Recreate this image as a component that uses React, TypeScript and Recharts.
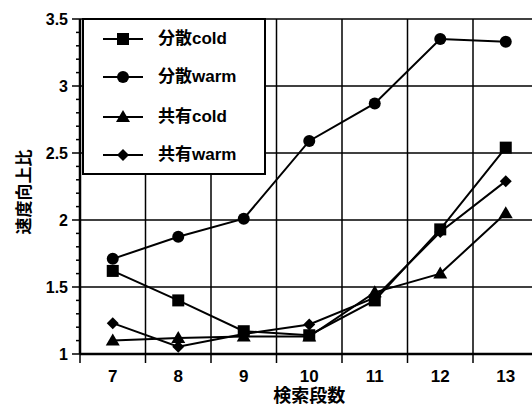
import React from 'react';
import { LineChart, Line, XAxis, YAxis, ReferenceLine } from 'recharts';

const categories = [7, 8, 9, 10, 11, 12, 13];
const bunsanCold = [1.62, 1.4, 1.17, 1.14, 1.4, 1.93, 2.54];
const bunsanWarm = [1.71, 1.875, 2.01, 2.59, 2.87, 3.35, 3.33];
const kyouyuCold = [1.1, 1.12, 1.13, 1.13, 1.46, 1.6, 2.05];
const kyouyuWarm = [1.23, 1.055, 1.15, 1.22, 1.42, 1.91, 2.29];

const seriesNames = ['分散cold', '分散warm', '共有cold', '共有warm'];
const yMajor = [1, 1.5, 2, 2.5, 3, 3.5];
const yTicks = [1, 1.1, 1.2, 1.3, 1.4, 1.5, 1.6, 1.7, 1.8, 1.9, 2, 2.1, 2.2, 2.3, 2.4, 2.5, 2.6, 2.7, 2.8, 2.9, 3, 3.1, 3.2, 3.3, 3.4, 3.5];
const xBounds = [6.5, 7.5, 8.5, 9.5, 10.5, 11.5, 12.5, 13.5];
const xTicks = [6.5, 7, 7.5, 8, 8.5, 9, 9.5, 10, 10.5, 11, 11.5, 12, 12.5, 13, 13.5];

const data = categories.map((c, i) => ({
  x: c,
  bc: bunsanCold[i],
  bw: bunsanWarm[i],
  kc: kyouyuCold[i],
  kw: kyouyuWarm[i],
}));

const FONT = "'Liberation Sans', Arial, 'Noto Sans CJK JP', sans-serif";
const CJK = "'Liberation Sans', 'Noto Sans CJK JP', sans-serif";

type Shape = 'square' | 'circle' | 'triangle' | 'diamond';
const shapes: Shape[] = ['square', 'circle', 'triangle', 'diamond'];

function Marker({ cx, cy, shape }: { cx: number; cy: number; shape: Shape }) {
  if (shape === 'square') return <rect x={cx - 6} y={cy - 6} width={12} height={12} fill="#000" />;
  if (shape === 'circle') return <circle cx={cx} cy={cy} r={6} fill="#000" />;
  if (shape === 'triangle')
    return <polygon points={`${cx},${cy - 7} ${cx - 7},${cy + 5} ${cx + 7},${cy + 5}`} fill="#000" />;
  return <polygon points={`${cx},${cy - 6} ${cx + 6},${cy} ${cx},${cy + 6} ${cx - 6},${cy}`} fill="#000" />;
}

const makeDot = (shape: Shape) => (props: any) => {
  const { cx, cy, index } = props;
  if (cx == null || cy == null) return <g key={`d-${shape}-${index}`} />;
  return (
    <g key={`d-${shape}-${index}`}>
      <Marker cx={cx} cy={cy} shape={shape} />
    </g>
  );
};

const YTick = (props: any) => {
  const { x, y, payload } = props;
  const v = payload.value;
  const major = yMajor.some((m) => Math.abs(m - v) < 1e-6);
  return (
    <g>
      <line x1={x - (major ? 8 : 4)} x2={x} y1={y} y2={y} stroke="#000" strokeWidth={1.5} />
      {major && (
        <text x={x - 12} y={y} textAnchor="end" dominantBaseline="central" fontFamily={FONT} fontWeight="bold" fontSize={16} fill="#000">
          {String(v)}
        </text>
      )}
    </g>
  );
};

const XTick = (props: any) => {
  const { x, y, payload } = props;
  const v = payload.value;
  const isInt = Math.abs(v - Math.round(v)) < 1e-6;
  if (!isInt) {
    return <line x1={x} x2={x} y1={y} y2={y + 9} stroke="#000" strokeWidth={1.5} />;
  }
  return (
    <text x={x} y={y + 22} textAnchor="middle" dominantBaseline="central" fontFamily={FONT} fontWeight="bold" fontSize={17} fill="#000">
      {String(v)}
    </text>
  );
};

const legendRows = [19, 57, 97, 135];

export default function App() {
  return (
    <div style={{ position: 'absolute', left: 0, top: 0, width: 532, height: 405, overflow: 'hidden', background: '#fff' }}>
      <LineChart width={540} height={405} data={data} margin={{ top: 19, right: 1.5, left: 0, bottom: 0 }}>
        {xBounds.slice(1).map((v) => (
          <ReferenceLine key={`vx${v}`} x={v} stroke="#000" strokeWidth={1.5} ifOverflow="visible" />
        ))}
        {yMajor.slice(1).map((v) => (
          <ReferenceLine key={`hy${v}`} y={v} stroke="#000" strokeWidth={1.5} ifOverflow="visible" />
        ))}
        <XAxis
          dataKey="x"
          type="number"
          domain={[6.5, 13.5]}
          ticks={xTicks}
          interval={0}
          tickLine={false}
          tickSize={0}
          tickMargin={0}
          tick={<XTick />}
          height={51}
          axisLine={{ stroke: '#000', strokeWidth: 2.5 }}
          label={{
            value: '検索段数',
            position: 'insideBottom',
            offset: 3,
            style: { fontFamily: CJK, fontWeight: 'bold', fontSize: 18, fill: '#000' },
          }}
        />
        <YAxis
          type="number"
          domain={[1, 3.5]}
          ticks={yTicks}
          interval={0}
          width={80}
          tickLine={false}
          tickSize={0}
          tickMargin={0}
          tick={<YTick />}
          axisLine={{ stroke: '#000', strokeWidth: 2.5 }}
          label={{
            content: () => (
              <text
                x={24}
                y={192}
                transform="rotate(-90 24 192)"
                textAnchor="middle"
                dominantBaseline="central"
                fontFamily={CJK}
                fontWeight="bold"
                fontSize={17}
                fill="#000"
              >
                速度向上比
              </text>
            ),
          }}
        />
        <Line dataKey="bc" stroke="#000" strokeWidth={2} dot={makeDot('square')} isAnimationActive={false} />
        <Line dataKey="bw" stroke="#000" strokeWidth={2} dot={makeDot('circle')} isAnimationActive={false} />
        <Line dataKey="kc" stroke="#000" strokeWidth={2} dot={makeDot('triangle')} isAnimationActive={false} />
        <Line dataKey="kw" stroke="#000" strokeWidth={2} dot={makeDot('diamond')} isAnimationActive={false} />
      </LineChart>
      <div
        style={{
          position: 'absolute',
          left: 82,
          top: 18,
          width: 184,
          height: 157,
          border: '2px solid #000',
          boxSizing: 'border-box',
          background: '#fff',
        }}
      >
        {seriesNames.map((name, i) => (
          <div key={name} style={{ position: 'absolute', left: 0, top: legendRows[i] - 10, height: 20, width: 180 }}>
            <svg width={44} height={20} style={{ position: 'absolute', left: 19, top: 0 }}>
              <line x1={0} x2={40} y1={10} y2={10} stroke="#000" strokeWidth={2} />
              <Marker cx={20} cy={10} shape={shapes[i]} />
            </svg>
            <span
              style={{
                position: 'absolute',
                left: 74,
                top: 0,
                lineHeight: '20px',
                fontFamily: CJK,
                fontWeight: 'bold',
                fontSize: 17,
                whiteSpace: 'nowrap',
                color: '#000',
              }}
            >
              {name}
            </span>
          </div>
        ))}
      </div>
    </div>
  );
}
